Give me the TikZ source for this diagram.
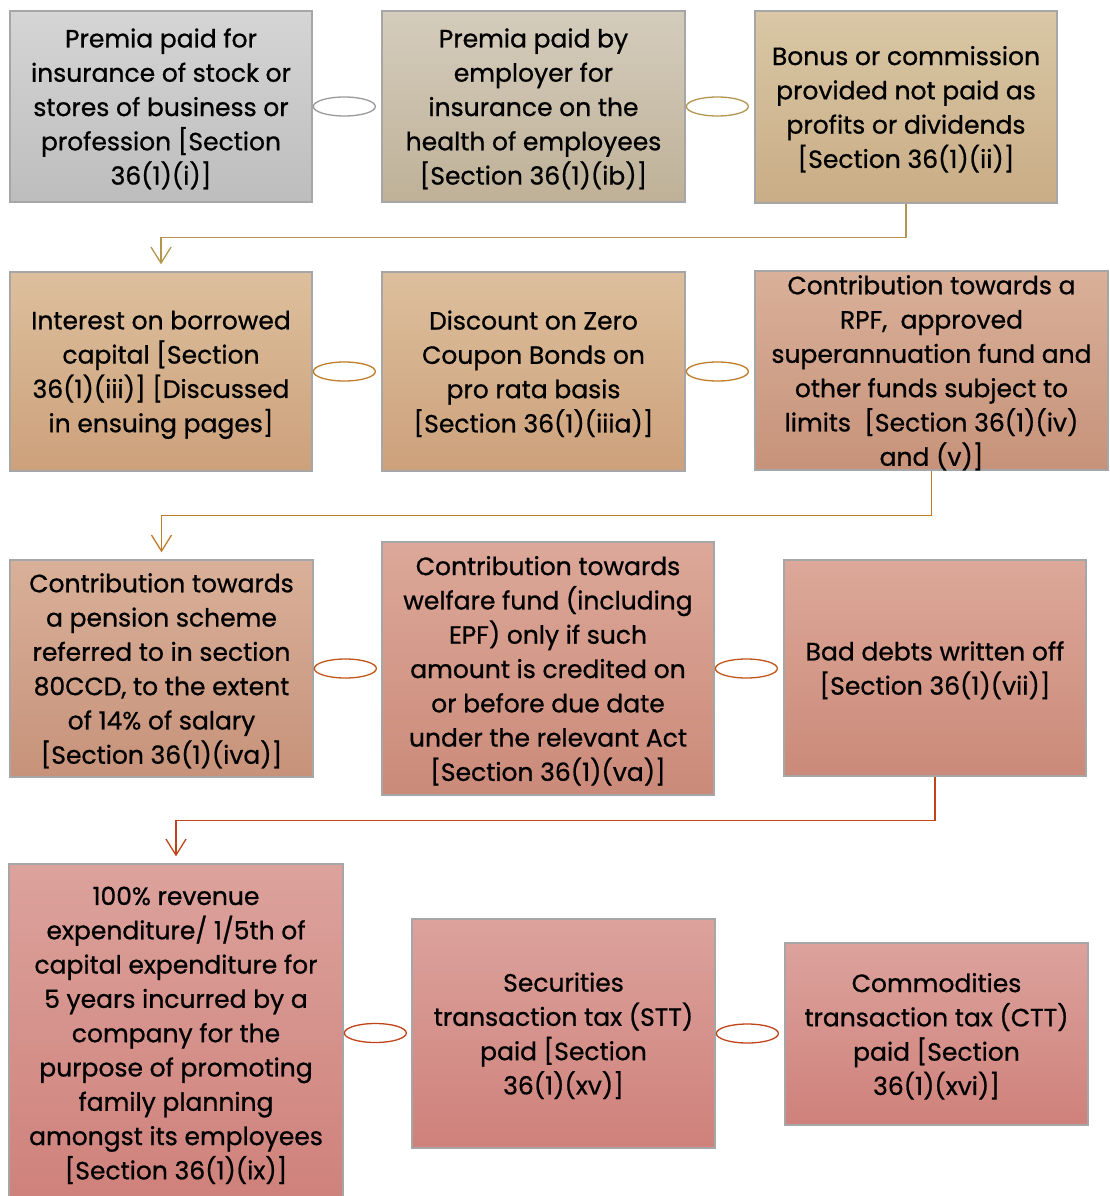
\documentclass[tikz,border=0pt]{standalone}
\usepackage{fontspec}
\setmainfont{Poppins}
\usetikzlibrary{positioning, arrows.meta, shapes.geometric, calc}

% box colours, top and bottom of each gradient
\definecolor{greyT}{HTML}{D5D5D5}   \definecolor{greyB}{HTML}{BDBDBD}
\definecolor{stoneT}{HTML}{D4CCBC}  \definecolor{stoneB}{HTML}{BFB198}
\definecolor{tanT}{HTML}{D9C7A5}    \definecolor{tanB}{HTML}{C9AD86}
\definecolor{camelT}{HTML}{DDBF9D}  \definecolor{camelB}{HTML}{CCA17B}
\definecolor{clayT}{HTML}{D9B099}   \definecolor{clayB}{HTML}{C7927A}
\definecolor{roseT}{HTML}{DCA899}   \definecolor{roseB}{HTML}{CB8A79}
\definecolor{coralT}{HTML}{DCA29C}  \definecolor{coralB}{HTML}{CF817B}
% connector colours
\definecolor{lineGrey}{HTML}{9A9A9A}
\definecolor{lineGold}{HTML}{B39550}
\definecolor{lineAmber}{HTML}{C07C28}
\definecolor{lineRust}{HTML}{C0561A}
\definecolor{lineRed}{HTML}{C0441A}

\tikzset{
  entry/.style={draw=black!35, line width=1.4pt, align=center, inner sep=0pt,
    font=\fontsize{25}{34.3}\selectfont\addfontfeature{FakeBold=0.8}, text=black,
    text depth=-2pt},
  link/.style={ellipse, line width=1.3pt, fill=white, inner sep=0pt,
    minimum width=62pt, minimum height=19pt},
  flow/.style={-{Straight Barb[length=16pt,width=20pt]}, line width=1.3pt, shorten >=7pt},
}

\begin{document}
\begin{tikzpicture}[x=1pt, y=-1pt] % pixel grid, y runs downwards
  \clip (0,0) rectangle (1110,1196);

  % row 1
  \node[entry, top color=greyT, bottom color=greyB, minimum width=302pt, minimum height=191pt]
    (A1) at (161,106.5) {Premia paid for\\insurance of stock or\\stores of business or\\profession [Section\\36(1)(i)]};
  \node[entry, top color=stoneT, bottom color=stoneB, minimum width=303pt, minimum height=191pt]
    (A2) at (533.5,106.5) {Premia paid by\\employer for\\insurance on the\\health of employees\\{}[Section 36(1)(ib)]};
  \node[entry, top color=tanT, bottom color=tanB, minimum width=302pt, minimum height=192pt]
    (A3) at (906,107) {Bonus or commission\\provided not paid as\\profits or dividends\\{}[Section 36(1)(ii)]};

  % row 2
  \node[entry, top color=camelT, bottom color=camelB, minimum width=302pt, minimum height=199pt]
    (B1) at (161,371.5) {Interest on borrowed\\capital [Section\\36(1)(iii)] [Discussed\\in ensuing pages]};
  \node[entry, top color=camelT, bottom color=camelB, minimum width=303pt, minimum height=199pt]
    (B2) at (533.5,371.5) {Discount on Zero\\Coupon Bonds on\\pro rata basis\\{}[Section 36(1)(iiia)]};
  \node[entry, top color=clayT, bottom color=clayB, minimum width=353pt, minimum height=199pt]
    (B3) at (931.5,370.5) {Contribution towards a\\RPF,\ \ approved\\superannuation fund and\\other funds subject to\\limits\ \ [Section 36(1)(iv)\\and (v)]};

  % row 3
  \node[entry, top color=clayT, bottom color=clayB, minimum width=303pt, minimum height=217pt]
    (C1) at (161.5,668.5) {Contribution towards\\a pension scheme\\referred to in section\\80CCD, to the extent\\of 14\% of salary\\{}[Section 36(1)(iva)]};
  \node[entry, top color=roseT, bottom color=roseB, minimum width=332pt, minimum height=253pt]
    (C2) at (548,668.5) {Contribution towards\\welfare fund (including\\EPF) only if such\\amount is credited on\\or before due date\\under the relevant Act\\{}[Section 36(1)(va)]};
  \node[entry, top color=roseT, bottom color=roseB, minimum width=302pt, minimum height=216pt]
    (C3) at (935,668) {Bad debts written off\\{}[Section 36(1)(vii)]};

  % row 4
  \node[entry, top color=coralT, bottom color=coralB, minimum width=334pt, minimum height=338pt]
    (D1) at (176,1033) {100\% revenue\\expenditure/ 1/5th of\\capital expenditure for\\5 years incurred by a\\company for the\\purpose of promoting\\family planning\\amongst its employees\\{}[Section 36(1)(ix)]};
  \node[entry, top color=coralT, bottom color=coralB, minimum width=303pt, minimum height=229pt]
    (D2) at (563.5,1033.5) {Securities\\transaction tax (STT)\\paid [Section\\36(1)(xv)]};
  \node[entry, top color=coralT, bottom color=coralB, minimum width=303pt, minimum height=182pt]
    (D3) at (936.5,1034) {Commodities\\transaction tax (CTT)\\paid [Section\\36(1)(xvi)]};

  % ellipses between neighbours
  \node[link, draw=lineGrey,  right=0pt of A1] (A12) {};
  \node[link, draw=lineGold,  right=0pt of A2] (A23) {};
  \node[link, draw=lineAmber, right=0pt of B1] (B12) {};
  \node[link, draw=lineAmber, right=0pt of B2] (B23) {};
  \node[link, draw=lineRust,  right=0pt of C1] (C12) {};
  \node[link, draw=lineRust,  right=0pt of C2] (C23) {};
  \node[link, draw=lineRed,   right=0pt of D1] (D12) {};
  \node[link, draw=lineRed,   right=0pt of D2] (D23) {};

  % row to row
  \draw[flow, draw=lineGold]  (A3.south) -- ++(0,34) -| (B1.north);
  \draw[flow, draw=lineAmber] (B3.south) -- ++(0,45) -| (C1.north);
  \draw[flow, draw=lineRed]   (C3.south) -- ++(0,44) -| (D1.north);
\end{tikzpicture}
\end{document}
